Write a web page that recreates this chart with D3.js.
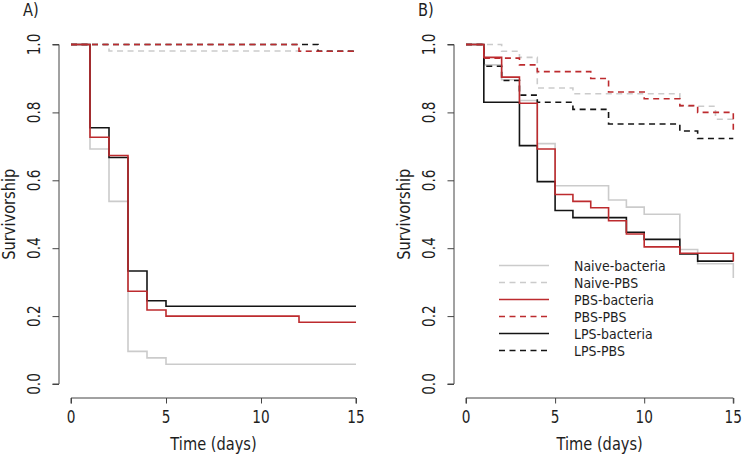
<!DOCTYPE html>
<html><head><meta charset="utf-8">
<script src="https://cdn.jsdelivr.net/npm/d3@7"></script>
<style>
html,body{margin:0;padding:0;background:#fff;}
svg{display:block;}
text{font-family:"DejaVu Sans",sans-serif;fill:#1e1e1e;}
</style></head>
<body><svg id="chart" width="745" height="456"></svg>
<script>
// ---- data ----
const seriesNames = ["Naive-bacteria","Naive-PBS","PBS-bacteria","PBS-PBS","LPS-bacteria","LPS-PBS"];
const xTicks = [0,5,10,15];
const yTicks = [0.0,0.2,0.4,0.6,0.8,1.0];
const yTickLabels = ["0.0","0.2","0.4","0.6","0.8","1.0"];

// Panel A: times of change and survival values
const aNaiveBactT = [0,1,2,3,4,5,15];
const aNaiveBactS = [1,0.692,0.538,0.096,0.077,0.058,0.058];
const aNaivePbsT  = [0,2,15];
const aNaivePbsS  = [1,0.981,0.981];
const aPbsBactT   = [0,1,2,3,4,5,12,15];
const aPbsBactS   = [1,0.727,0.673,0.273,0.218,0.200,0.182,0.182];
const aPbsPbsT    = [0,12,15];
const aPbsPbsS    = [1,0.980,0.980];
const aLpsBactT   = [0,1,2,3,4,5,15];
const aLpsBactS   = [1,0.755,0.667,0.333,0.245,0.229,0.229];
const aLpsPbsT    = [0,13,15];
const aLpsPbsS    = [1,0.980,0.980];

// Panel B
const bNaiveBactT = [0,1,2,3,4,5,8,9,10,12,13,15,15];
const bNaiveBactS = [1,0.940,0.896,0.835,0.708,0.584,0.542,0.521,0.500,0.396,0.354,0.354,0.312];
const bNaivePbsT  = [0,2,3,4,6,12,14,15];
const bNaivePbsS  = [1,0.980,0.962,0.872,0.855,0.818,0.780,0.780];
const bPbsBactT   = [0,1,2,3,4,5,6,7,8,9,10,12,15,15];
const bPbsBactS   = [1,0.962,0.904,0.827,0.692,0.558,0.538,0.519,0.481,0.442,0.404,0.385,0.385,0.361];
const bPbsPbsT    = [0,1,3,4,7,8,10,12,13,15,15];
const bPbsPbsS    = [1,0.960,0.940,0.920,0.900,0.860,0.840,0.820,0.800,0.800,0.740];
const bLpsBactT   = [0,1,3,4,5,6,9,10,12,13,15];
const bLpsBactS   = [1,0.830,0.702,0.596,0.511,0.490,0.447,0.426,0.383,0.362,0.362];
const bLpsPbsT    = [0,1,2,3,4,6,8,12,13,15];
const bLpsPbsS    = [1,0.936,0.894,0.851,0.830,0.809,0.766,0.745,0.723,0.723];

const GRAY="#cbcbcb", RED="#bd2b2e", BLACK="#141414";
const styles = {
  "Naive-bacteria":{c:GRAY,d:null},
  "Naive-PBS":{c:GRAY,d:"6,4.5"},
  "PBS-bacteria":{c:RED,d:null},
  "PBS-PBS":{c:RED,d:"6,4.5"},
  "LPS-bacteria":{c:BLACK,d:null},
  "LPS-PBS":{c:BLACK,d:"6,4.5"}
};
const drawOrder = ["Naive-bacteria","Naive-PBS","LPS-bacteria","LPS-PBS","PBS-bacteria","PBS-PBS"];

const panelA = {
  label:"A)", left:71, right:356, axisX:59, top:44.5, bottom:384,
  data:{"Naive-bacteria":[aNaiveBactT,aNaiveBactS],"Naive-PBS":[aNaivePbsT,aNaivePbsS],
        "PBS-bacteria":[aPbsBactT,aPbsBactS],"PBS-PBS":[aPbsPbsT,aPbsPbsS],
        "LPS-bacteria":[aLpsBactT,aLpsBactS],"LPS-PBS":[aLpsPbsT,aLpsPbsS]},
  legend:false
};
const panelB = {
  label:"B)", left:466, right:733.3, axisX:454, top:44.5, bottom:384,
  data:{"Naive-bacteria":[bNaiveBactT,bNaiveBactS],"Naive-PBS":[bNaivePbsT,bNaivePbsS],
        "PBS-bacteria":[bPbsBactT,bPbsBactS],"PBS-PBS":[bPbsPbsT,bPbsPbsS],
        "LPS-bacteria":[bLpsBactT,bLpsBactS],"LPS-PBS":[bLpsPbsT,bLpsPbsS]},
  legend:true
};

const svg = d3.select("#chart");
const TICKFS=17.5, TICKSX=0.78, TITLEFS=17, TITLESX=0.86;

function txt(g, s, x, y, rot, fs, sx, anchor){
  return g.append("text").text(s)
    .attr("transform",`translate(${x},${y}) rotate(${rot}) scale(${sx},1)`)
    .attr("font-size",fs).attr("text-anchor",anchor||"middle");
}

function drawPanel(p){
  const g = svg.append("g");
  const x = d3.scaleLinear().domain([0,15]).range([p.left,p.right]);
  const y = d3.scaleLinear().domain([0,1]).range([p.bottom,p.top]);
  const axisY = 398;

  // x axis
  const xa = g.append("g").attr("transform",`translate(0,${axisY})`)
    .call(d3.axisBottom(x).tickValues(xTicks).tickSize(5.5).tickFormat(""));
  xa.select(".domain").attr("d",`M${x(0)},5.5V0H${x(15)}V5.5`);
  xa.selectAll("path,line").attr("stroke","#444").attr("stroke-width",1);
  xTicks.forEach(t=>txt(g,String(t),x(t),422.7,0,TICKFS,TICKSX));
  txt(g,"Time (days)",(p.left+p.right)/2,450,0,TITLEFS,TITLESX);

  // y axis
  const ya = g.append("g").attr("transform",`translate(${p.axisX},0)`)
    .call(d3.axisLeft(y).tickValues(yTicks).tickSize(6.5).tickFormat(""));
  ya.select(".domain").attr("d",`M-6.5,${y(0)}H0V${y(1)}H-6.5`);
  ya.selectAll("path,line").attr("stroke","#444").attr("stroke-width",1);
  yTicks.forEach((t,i)=>txt(g,yTickLabels[i],p.axisX-19,y(t),-90,TICKFS,TICKSX));
  txt(g,"Survivorship",p.axisX-44,(p.top+p.bottom)/2,-90,TITLEFS,TITLESX);

  // panel label
  txt(g,p.label,p.axisX-36,15.5,0,TITLEFS,TITLESX,"start");

  // curves
  const line = d3.line().x(d=>x(d[0])).y(d=>y(d[1])).curve(d3.curveStepAfter);
  drawOrder.forEach(name=>{
    const [T,S] = p.data[name];
    const pts = T.map((t,i)=>[t,S[i]]);
    g.append("path").attr("d",line(pts)).attr("fill","none")
      .attr("stroke",styles[name].c).attr("stroke-width",1.6)
      .attr("stroke-dasharray",styles[name].d);
  });

  if(p.legend){
    const lg = g.append("g");
    seriesNames.forEach((name,i)=>{
      const yy = 265.5 + i*17;
      lg.append("line").attr("x1",499).attr("x2",549).attr("y1",yy).attr("y2",yy)
        .attr("stroke",styles[name].c).attr("stroke-width",1.6)
        .attr("stroke-dasharray",styles[name].d);
      txt(lg,name,574,yy+5.3,0,14.6,0.86,"start");
    });
  }
}
drawPanel(panelA);
drawPanel(panelB);
</script></body></html>
